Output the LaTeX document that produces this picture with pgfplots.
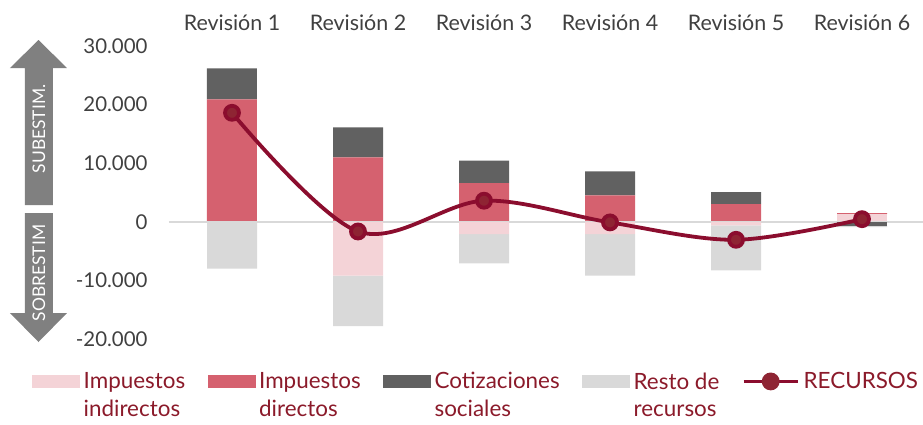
\documentclass[border=0pt]{standalone}
\usepackage{fontspec}
\setmainfont{Lato}
\usepackage{pgfplots}
\usepackage{pgfplotstable}
\pgfplotsset{compat=1.18}

\definecolor{indir}{HTML}{F4D3D7}
\definecolor{direc}{HTML}{D5616F}
\definecolor{cotiz}{HTML}{616161}
\definecolor{resto}{HTML}{D9D9D9}
\definecolor{recline}{HTML}{8B0D2E}
\definecolor{recmark}{HTML}{8E2433}
\definecolor{legtext}{HTML}{8B1A2A}
\definecolor{ticktext}{HTML}{404040}
\definecolor{arrowgray}{HTML}{808080}

% positive parts (stacked upward from 0)
\pgfplotstableread{
x ind dir cot res
0 0    20900 5300 0
1 0    11000 5100 0
2 0    6600  3850 0
3 0    4500  4100 0
4 0    3000  2050 0
5 1300 200   0    0
}\positivos

% negative parts (stacked downward from 0)
\pgfplotstableread{
x ind dir cot res
0 0     0 0    -8000
1 -9200 0 0    -8600
2 -2100 0 0    -5000
3 -2100 0 0    -7100
4 -600  0 0    -7700
5 0     0 -700 -200
}\negativos

\pgfplotstableread{
x rec
0 18600
1 -1650
2 3600
3 -100
4 -3070
5 450
}\recursos

\pgfplotsset{
  base/.style={
    scale only axis, width=756bp, height=293bp,
    xmin=-0.5, xmax=5.5, ymin=-20000, ymax=30000,
    at={(0,0)}, anchor=south west,
  },
  hidden/.style={axis line style={draw=none}, xtick=\empty, ytick=\empty},
}

\begin{document}
\begin{tikzpicture}[x=1bp,y=1bp]
\useasboundingbox (-169,-85) rectangle (754,339);

% positive stacks + axes text
\begin{axis}[base,
    ybar stacked, bar width=50bp,
    axis line style={draw=none},
    major tick length=0pt,
    xtick={0,1,2,3,4,5},
    xticklabels={Revisión 1,Revisión 2,Revisión 3,Revisión 4,Revisión 5,Revisión 6},
    xticklabel pos=upper,
    xticklabel style={yshift=12bp, font=\fontsize{21.5}{24}\selectfont},
    ytick={-20000,-10000,0,10000,20000,30000},
    scaled y ticks=false,
    yticklabel style={xshift=-18bp, font=\fontsize{20.5}{24}\selectfont},
    tick label style={text=ticktext},
    /pgf/number format/1000 sep={.},
    /pgf/number format/assume math mode=true,
]
\addplot[fill=indir, draw=none] table[x=x, y=ind] {\positivos};
\addplot[fill=direc, draw=none] table[x=x, y=dir] {\positivos};
\addplot[fill=cotiz, draw=none] table[x=x, y=cot] {\positivos};
\addplot[fill=resto, draw=none] table[x=x, y=res] {\positivos};
\end{axis}

% negative stacks
\begin{axis}[base, hidden, ybar stacked, bar width=50bp]
\addplot[fill=indir, draw=none] table[x=x, y=ind] {\negativos};
\addplot[fill=direc, draw=none] table[x=x, y=dir] {\negativos};
\addplot[fill=cotiz, draw=none] table[x=x, y=cot] {\negativos};
\addplot[fill=resto, draw=none] table[x=x, y=res] {\negativos};
\draw[resto, line width=1.5bp] (axis cs:-0.5,0) -- (axis cs:5.5,0);
\end{axis}

% RECURSOS line and legend
\begin{axis}[base, hidden,
    legend columns=5,
    legend style={at={(-0.185,-0.10)}, anchor=north west, draw=none, fill=none,
      font=\fontsize{22.5}{28}\selectfont, text=legtext,
      cells={anchor=west, align=left},
      /tikz/every odd column/.append style={column sep=2bp},
      /tikz/every even column/.append style={column sep=20.5bp}},
]
\addlegendimage{legend image code/.code={\fill[indir] (0bp,8bp) rectangle (47bp,20bp);}}
\addlegendentry{Impuestos\\indirectos}
\addlegendimage{legend image code/.code={\fill[direc] (0bp,8bp) rectangle (47bp,20bp);}}
\addlegendentry{Impuestos\\directos}
\addlegendimage{legend image code/.code={\fill[cotiz] (0bp,8bp) rectangle (47bp,20bp);}}
\addlegendentry{Cotizaciones\\sociales}
\addlegendimage{legend image code/.code={\fill[resto] (0bp,8bp) rectangle (47bp,20bp);}}
\addlegendentry{Resto de\\recursos}
\addplot[recline, line width=3.8bp, smooth, tension=0.55,
    mark=*, mark size=7bp, mark options={fill=recmark, draw=none},
    legend image code/.code={
      \draw[recline, line width=3.8bp] (0bp,14bp) -- (54bp,14bp);
      \fill[recmark] (27bp,14bp) circle (7bp);}]
  table[x=x, y=rec] {\recursos};
\addlegendentry{RECURSOS\\\strut}
\end{axis}

% side arrows
\fill[arrowgray] (-144,134) -- (-144,271) -- (-159,271) -- (-130.5,299)
  -- (-102,271) -- (-116,271) -- (-116,134) -- cycle;
\fill[arrowgray] (-144,126) -- (-144,26) -- (-159,26) -- (-130.5,-3)
  -- (-102,26) -- (-116,26) -- (-116,126) -- cycle;
\node[rotate=90, text=white, font=\fontsize{17.5}{20}\selectfont] at (-130,210) {SUBESTIM.};
\node[rotate=90, text=white, font=\fontsize{17.5}{20}\selectfont] at (-130,66) {SOBRESTIM};
\end{tikzpicture}
\end{document}
